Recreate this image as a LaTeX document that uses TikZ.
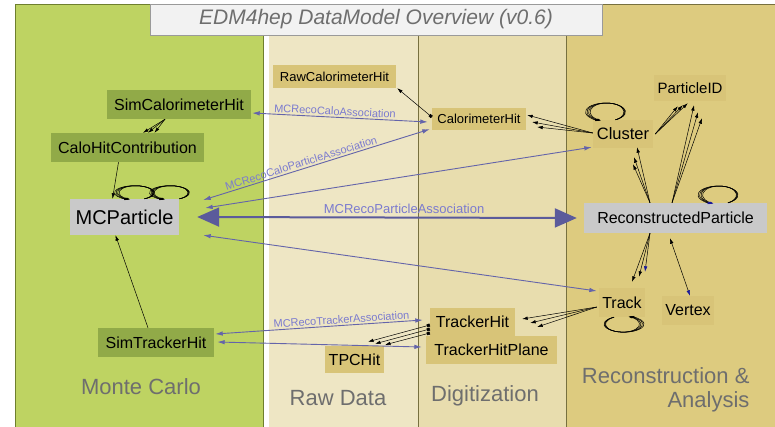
\documentclass[tikz,border=0pt]{standalone}
\usepackage{fontspec}
\setmainfont{Liberation Sans}
\usepackage{tikz}
\usetikzlibrary{arrows.meta}

\definecolor{mcpanel}{HTML}{BED362}
\definecolor{mcedge}{HTML}{6E7F2E}
\definecolor{rawpanel}{HTML}{EEE6C4}
\definecolor{digipanel}{HTML}{E8DDAE}
\definecolor{recopanel}{HTML}{DDCB7F}
\definecolor{paneledge}{HTML}{77703F}
\definecolor{simfill}{HTML}{91AA48}
\definecolor{tanfill}{HTML}{D8C478}
\definecolor{greyfill}{HTML}{C9C9C9}
\definecolor{titlefill}{HTML}{F2F2F2}
\definecolor{titleedge}{HTML}{9A9A9A}
\definecolor{greytext}{HTML}{6E6E6E}
\definecolor{assocline}{HTML}{6464AA}
\definecolor{bigline}{HTML}{5B5B9B}
\definecolor{assoctext}{HTML}{7B7BCF}
\definecolor{looptip}{HTML}{1A1A9A}

\begin{document}
\begin{tikzpicture}[x=1pt, y=-1pt,
    box/.style = {inner sep=0pt, font=\fontsize{16}{19}\selectfont},
    simbox/.style = {box, fill=simfill},
    tanbox/.style = {box, fill=tanfill},
    greybox/.style = {box, fill=greyfill},
    rel/.style = {-{Latex[length=5.5pt, width=3.5pt]}, line width=0.5pt},
    selfrel/.style = {-{Latex[length=3.5pt, width=2.5pt]}, line width=0.5pt},
    assoc/.style = {{Latex[length=7.5pt, width=4.5pt]}-{Latex[length=7.5pt, width=4.5pt]}, draw=assocline, line width=0.9pt},
    bigassoc/.style = {{Triangle[length=22pt, width=19pt]}-{Triangle[length=22pt, width=19pt]}, draw=bigline, line width=2pt},
    assoclbl/.style = {font=\fontsize{11}{13}\selectfont, text=assoctext, inner sep=1.5pt},
    area/.style = {font=\fontsize{22}{24}\selectfont, text=greytext}]

    \useasboundingbox (0, 0) rectangle (775, 426);
    \fill [white] (0, 0) rectangle (775, 426);

    \filldraw [fill=mcpanel, draw=mcedge] (15, 4) rectangle (263, 430);
    \fill [rawpanel] (269, 4) rectangle (418, 430);
    \fill [digipanel] (418, 4) rectangle (566, 430);
    \fill [recopanel] (566, 4) rectangle (776, 430);
    \draw [paneledge] (269, 4) -- (776, 4);
    \draw [paneledge] (418, 4) -- (418, 430);
    \draw [paneledge] (566, 4) -- (566, 430);

    \node [draw=titleedge, fill=titlefill, minimum width=452, minimum height=31,
           font=\itshape\fontsize{21}{24}\selectfont, text=greytext] (title) at (376, 19.5)
          {EDM4hep DataModel Overview (v0.6)};

    \node [simbox, minimum width=144, minimum height=29] (simcalo) at (179, 104.5) {SimCalorimeterHit};
    \node [simbox, minimum width=153, minimum height=29] (contrib) at (127.5, 147.5) {CaloHitContribution};
    \node [greybox, minimum width=109, minimum height=36, font=\fontsize{20}{24}\selectfont] (mcp) at (124.5, 217) {MCParticle};
    \node [simbox, minimum width=116, minimum height=29] (simtrk) at (156, 342.5) {SimTrackerHit};

    \node [tanbox, minimum width=123, minimum height=23, font=\fontsize{13}{15}\selectfont] (rawcalo) at (334.5, 76.5) {RawCalorimeterHit};
    \node [tanbox, minimum width=59, minimum height=27] (tpchit) at (354.5, 359.5) {TPCHit};

    \node [tanbox, minimum width=94, minimum height=22, font=\fontsize{13}{15}\selectfont] (calohit) at (479, 119) {CalorimeterHit};
    \node [tanbox, minimum width=85, minimum height=28] (trkhit) at (472.5, 322) {TrackerHit};
    \node [tanbox, minimum width=131, minimum height=28] (trkplane) at (491.5, 350) {TrackerHitPlane};

    \node [tanbox, minimum width=60, minimum height=28, font=\fontsize{16.5}{19}\selectfont] (cluster) at (623, 134) {Cluster};
    \node [tanbox, minimum width=72, minimum height=26, font=\fontsize{15}{18}\selectfont] (pid) at (690, 88) {ParticleID};
    \node [greybox, minimum width=183, minimum height=30] (recop) at (675.5, 218) {ReconstructedParticle};
    \node [tanbox, minimum width=46, minimum height=29] (track) at (622, 302.5) {Track};
    \node [tanbox, minimum width=52, minimum height=29] (vertex) at (688, 310.5) {Vertex};

    \node [area] (mclbl) at (141, 387) {Monte Carlo};
    \node [area] (rawlbl) at (338, 398.5) {Raw Data};
    \node [area] (digilbl) at (485, 396) {Digitization};
    \node [area, align=right, anchor=east] (recolbl) at (753, 389.5) {Reconstruction \&\\Analysis};

    % Monte Carlo side
    \draw [rel] ([xshift=-9]contrib.south) -- ([xshift=-12]mcp.north);
    \draw [rel] ([xshift=-14]simcalo.south) -- ([xshift=15.5]contrib.north);
    \draw [rel] ([xshift=-14]simcalo.south) -- ([xshift=20.5]contrib.north);
    \draw [rel] ([xshift=-14]simcalo.south) -- ([xshift=27]contrib.north);
    \draw [rel] ([xshift=-8]simtrk.north) -- ([xshift=-9]mcp.south);
    \foreach \r in {17, 18, 19, 20} {
        \draw [selfrel] ([xshift=20]mcp.north) arc [start angle=60, end angle=-250, x radius=\r, y radius=7];
        \draw [selfrel] ([xshift=55]mcp.north) arc [start angle=60, end angle=-250, x radius=\r, y radius=7];
    }

    % associations
    \draw [assoc] ([xshift=1, yshift=-8.5]simcalo.east) --
        node [assoclbl, above, sloped, pos=0.47] {MCRecoCaloAssociation} ([xshift=-4, yshift=-3]calohit.west);
    \draw [assoc] ([xshift=24, yshift=17]mcp.east) --
        node [assoclbl, above, sloped, pos=0.44] {MCRecoCaloParticleAssociation} ([xshift=-2, yshift=1]calohit.south west);
    \draw [assoc] ([xshift=26, yshift=9]mcp.east) -- ([xshift=-1, yshift=1]cluster.south west);
    \draw [bigassoc] ([xshift=18]mcp.east) --
        node [assoclbl, above, pos=0.545, font=\fontsize{13}{15}\selectfont, yshift=1] {MCRecoParticleAssociation} ([xshift=-7]recop.west);
    \draw [assoc] ([xshift=24]mcp.south east) -- ([xshift=-2, yshift=11.5]track.west);
    \draw [assoc] ([xshift=1, yshift=8.5]simtrk.east) --
        node [assoclbl, above, sloped, pos=0.61] {MCRecoTrackerAssociation} ([xshift=-7, yshift=2]trkhit.west);
    \draw [assoc] ([xshift=3, yshift=0.5]simtrk.east) -- ([xshift=-4, yshift=3]trkplane.west);

    % digitization
    \draw [{Square[length=3pt]}-{Latex[length=5.5pt, width=3.5pt]}, line width=0.5pt] ([yshift=2]calohit.west) -- ([xshift=1]rawcalo.south east);
    \draw [{Square[length=3pt]}-{Latex[length=5.5pt, width=3.5pt]}, line width=0.5pt] ([yshift=-3]trkhit.west) -- ([xshift=13.5, yshift=4]tpchit.north);
    \draw [{Square[length=3pt]}-{Latex[length=5.5pt, width=3.5pt]}, line width=0.5pt] ([yshift=-7]trkhit.west) -- ([xshift=20.5, yshift=2]tpchit.north);
    \draw [{Square[length=3pt]}-{Latex[length=5.5pt, width=3.5pt]}, line width=0.5pt] ([yshift=-11]trkhit.west) -- ([xshift=30.5, yshift=1]tpchit.north);

    % reconstruction
    \draw [rel] ([yshift=1]cluster.west) -- ([xshift=1, yshift=4]calohit.east);
    \draw [rel] ([yshift=1]cluster.west) -- ([xshift=6, yshift=-3]calohit.east);
    \draw [rel] ([yshift=1]cluster.west) -- ([xshift=11, yshift=-8]calohit.east);
    \draw [rel] ([xshift=2]cluster.east) -- ([xshift=24, yshift=-5]pid.south west);
    \draw [rel] ([xshift=2]cluster.east) -- ([xshift=29, yshift=-4]pid.south west);
    \draw [rel] ([xshift=2]cluster.east) -- ([xshift=34, yshift=-2]pid.south west);
    \draw [rel] ([xshift=-25.5]recop.north) -- ([xshift=14, yshift=1]cluster.south);
    \draw [rel] ([xshift=-25.5]recop.north) -- ([xshift=11, yshift=-9]cluster.south);
    \draw [rel] ([xshift=-25.5]recop.north) -- ([xshift=10, yshift=-16]cluster.south);
    \draw [rel] ([xshift=-3.5]recop.north) -- ([xshift=4, yshift=-4]pid.south);
    \draw [rel] ([xshift=-3.5]recop.north) -- ([xshift=8, yshift=-11]pid.south);
    \draw [rel] ([xshift=-3.5]recop.north) -- ([xshift=12, yshift=-17]pid.south);
    \draw [rel] ([xshift=-25.5]recop.south) -- ([xshift=10, yshift=6]track.north);
    \draw [rel] ([xshift=-25.5]recop.south) -- ([xshift=17, yshift=11]track.north);
    \draw [-{Latex[length=5.5pt, width=3.5pt, color=looptip]}, line width=0.5pt] ([xshift=-25.5]recop.south) -- ([xshift=23, yshift=16]track.north);
    \draw [{Latex[length=5.5pt, width=3.5pt]}-{Latex[length=5.5pt, width=3.5pt, color=looptip]}, line width=0.5pt]
        ([xshift=-5.5, yshift=-5]recop.south) -- ([xshift=2]vertex.north);
    \draw [rel] ([xshift=-2, yshift=-4.5]track.west) -- ([xshift=7, yshift=3]trkhit.east);
    \draw [rel] ([xshift=-2, yshift=-4.5]track.west) -- ([xshift=15, yshift=-1]trkhit.east);
    \draw [rel] ([xshift=-2, yshift=-4.5]track.west) -- ([xshift=22, yshift=-5]trkhit.east);
    \foreach \r in {17, 18, 19, 20} {
        \draw [selfrel] ([xshift=-7.5]cluster.north) arc [start angle=60, end angle=-250, x radius=\r, y radius=9];
        \draw [-{Latex[length=3.5pt, width=2.5pt, color=looptip]}, line width=0.5pt] ([xshift=52.5]recop.north) arc [start angle=60, end angle=-250, x radius=\r, y radius=9];
        \draw [selfrel] ([xshift=-8]track.south) arc [start angle=-120, end angle=-430, x radius=\r, y radius=8];
    }

\end{tikzpicture}
\end{document}
